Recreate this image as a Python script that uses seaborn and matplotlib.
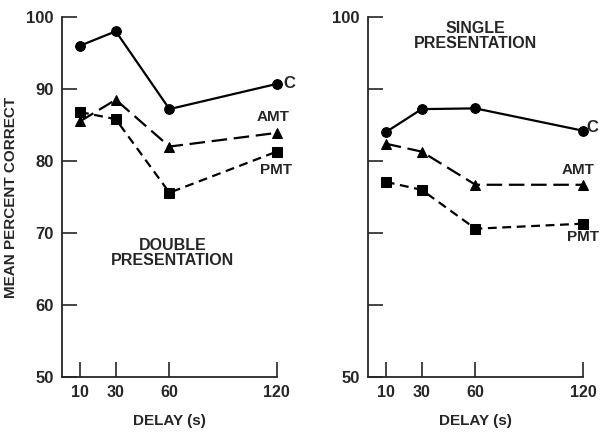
import numpy as np
import pandas as pd
import matplotlib.pyplot as plt
import seaborn as sns

sns.set_style("ticks")
plt.rcParams["font.family"] = ["Liberation Sans", "DejaVu Sans"]
plt.rcParams["font.weight"] = "bold"
plt.rcParams["axes.labelweight"] = "bold"

# ---------- data ----------
delays = [10, 30, 60, 120]
double_c = [96.0, 98.0, 87.2, 90.7]
double_amt = [85.5, 88.5, 82.0, 83.9]
double_pmt = [86.8, 85.8, 75.6, 81.3]
single_c = [84.0, 87.2, 87.3, 84.2]
single_amt = [82.4, 81.3, 76.7, 76.7]
single_pmt = [77.1, 76.0, 70.6, 71.3]

panels = [
    ("DOUBLE\nPRESENTATION", double_c, double_amt, double_pmt),
    ("SINGLE\nPRESENTATION", single_c, single_amt, single_pmt),
]
series = ["C", "AMT", "PMT"]
markers = {"C": "o", "AMT": "^", "PMT": "s"}
styles = {"C": "-", "AMT": (0, (7, 3)), "PMT": (0, (4, 2.5))}

fig = plt.figure(figsize=(6.03, 4.33), dpi=100)
ax_l = fig.add_axes([0.103, 0.129, 0.356, 0.832])
ax_r = fig.add_axes([0.610, 0.129, 0.357, 0.832])

for ax, (title, c, amt, pmt) in zip([ax_l, ax_r], panels):
    df = pd.DataFrame({"delay": delays * 3,
                       "pct": c + amt + pmt,
                       "series": [s for s in series for _ in delays]})
    for s in series:
        sub = df[df["series"] == s]
        sns.lineplot(data=sub, x="delay", y="pct", ax=ax, color="black",
                     marker=markers[s], markersize=7 if s != "AMT" else 7.5,
                     markeredgecolor="black", linewidth=1.6,
                     linestyle=styles[s], clip_on=False)
    ax.set_xlim(0, 120)
    ax.set_ylim(50, 100)
    ax.set_xticks(delays)
    ax.set_xticklabels([str(d) for d in delays], fontsize=11.5)
    ax.set_yticks([50, 60, 70, 80, 90, 100])
    ax.tick_params(direction="in", length=11, width=1.2, pad=6)
    ax.spines["top"].set_visible(False)
    ax.spines["right"].set_visible(False)
    for sp in ["left", "bottom"]:
        ax.spines[sp].set_linewidth(1.3)
    ax.set_xlabel("DELAY (s)", fontsize=11, labelpad=10)
    ax.set_ylabel("")

# series labels at the right end of the lines
ax_l.text(127, 90.7, "C", fontsize=12, ha="center", va="center")
ax_l.text(118, 86.1, "AMT", fontsize=11, ha="center", va="center")
ax_l.text(119.5, 78.8, "PMT", fontsize=11, ha="center", va="center")
ax_r.text(125, 84.6, "C", fontsize=12, ha="center", va="center")
ax_r.text(117, 78.8, "AMT", fontsize=11, ha="center", va="center")
ax_r.text(120, 69.4, "PMT", fontsize=11, ha="center", va="center")

ax_l.text(61.7, 67.2, panels[0][0], fontsize=11.5, ha="center", va="center",
          linespacing=1.0)
ax_r.text(59.8, 97.4, panels[1][0], fontsize=11.5, ha="center", va="center",
          linespacing=1.0)

ax_l.set_yticklabels(["50", "60", "70", "80", "90", "100"], fontsize=12)
ax_r.set_yticklabels(["50", "", "", "", "", "100"], fontsize=12)
ax_l.set_ylabel("MEAN PERCENT CORRECT", fontsize=11, labelpad=6)

fig.savefig("out.png", dpi=100)
